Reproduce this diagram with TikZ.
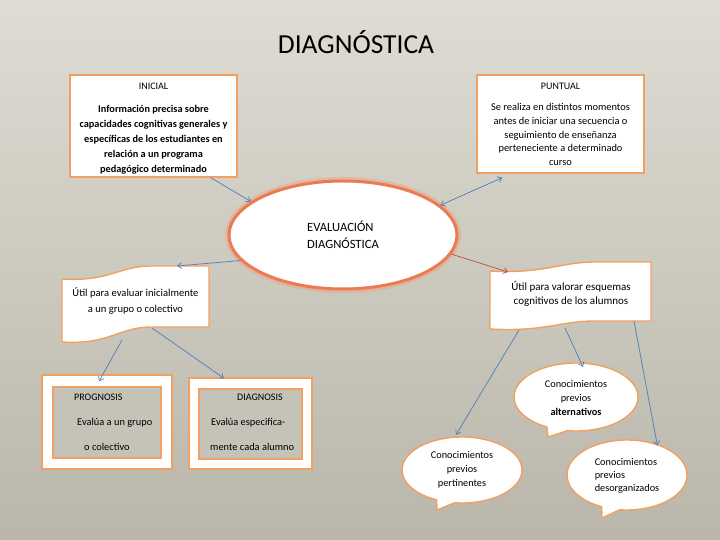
\documentclass[tikz,border=0pt]{standalone}
\usepackage{fontspec}
\setmainfont{Carlito}
\usetikzlibrary{arrows.meta,shapes.geometric}
\definecolor{bgtop}{RGB}{222,220,211}
\definecolor{bgbot}{RGB}{186,182,170}
\definecolor{boxor}{RGB}{242,160,98}
\definecolor{glow}{RGB}{236,122,82}
\definecolor{glowsoft}{RGB}{240,160,120}
\definecolor{arrb}{RGB}{79,125,185}
\definecolor{arrr}{RGB}{190,75,72}
\definecolor{innerg}{RGB}{197,194,184}
\begin{document}
\begin{tikzpicture}[x=1pt,y=1pt,
  box/.style={rectangle, draw=boxor, line width=1.4pt, fill=white, inner sep=0pt},
  innerbox/.style={rectangle, draw=boxor, line width=1.8pt, fill=innerg, inner sep=0pt},
  txt/.style={font=\fontsize{10.4}{15}\selectfont, align=center, inner sep=0pt, text=black},
  small/.style={font=\fontsize{10}{12}\selectfont, inner sep=0pt, text=black},
  arr/.style={draw=arrb, line width=0.7pt, -{Straight Barb[length=4pt,width=6pt]}},
  arrtwo/.style={draw=arrb, line width=0.7pt, {Straight Barb[length=4pt,width=6pt]}-{Straight Barb[length=4pt,width=6pt]}},
  arrred/.style={draw=arrr, line width=0.7pt, -{Straight Barb[length=4pt,width=6pt]}},
  wavebox/.style={draw=boxor, line width=1.4pt, fill=white, line join=round},
  bubble/.style={draw=boxor, line width=1.4pt, fill=white, line join=round},
  bubtxt/.style={ellipse, inner sep=0pt, font=\fontsize{10.3}{14}\selectfont, text=black},
  evell/.style={ellipse, fill=white, draw=glow, line width=3pt, minimum width=228pt, minimum height=108pt, inner sep=0pt,
     preaction={draw=glowsoft, line width=8pt, draw opacity=0.45},
     font=\fontsize{12.6}{17}\selectfont, align=left, text=black}
]
\useasboundingbox (0,0) rectangle (720,540);
\shade[top color=bgtop, bottom color=bgbot] (0,0) rectangle (720,540);

% title
\node[font=\fontsize{27.5}{30}\selectfont, text=black] (title) at (356,498) {DIAGNÓSTICA};

% INICIAL
\node[box, minimum width=167pt, minimum height=102pt] (ini) at (153.5,414) {};
\node[small] (initl) at (153.5,454) {INICIAL};
\node[txt, font=\bfseries\fontsize{10.3}{15}\selectfont] (initx) at (153.5,400) {Información precisa sobre\\capacidades  cognitivas generales y\\específicas  de los estudiantes en\\relación  a un programa\\pedagógico determinado};

% PUNTUAL
\node[box, minimum width=167pt, minimum height=98pt] (punt) at (560.5,416) {};
\node[small] (punttl) at (560.5,454) {PUNTUAL};
\node[txt, font=\fontsize{10.4}{13.8}\selectfont] (punttx) at (560.5,405.5) {Se realiza en distintos momentos\\antes de iniciar una secuencia o\\seguimiento de enseñanza\\perteneciente a determinado\\curso};

% central ellipse
\node[evell] (ell) at (343,305) {EVALUACIÓN\\DIAGNÓSTICA};

% left wave
\draw[wavebox] (62,261) .. controls (110,258) and (118,274) .. (152,274) -- (209,274)
  -- (209,213) -- (152,213) .. controls (118,213) and (110,195) .. (62,198) -- cycle;
\node[txt, font=\fontsize{10.6}{16}\selectfont] (lw) at (135.5,239) {Útil  para evaluar inicialmente\\a un grupo o colectivo};
\coordinate (lwT) at (177,274);
\coordinate (lwA) at (122,200);
\coordinate (lwB) at (152,212);

% right wave
\draw[wavebox] (490,269) .. controls (545,266) and (560,278) .. (595,278) -- (651,278)
  -- (651,219) -- (595,219) .. controls (560,219) and (545,208) .. (490,211) -- cycle;
\node[txt, font=\fontsize{11}{14}\selectfont] (rw) at (571,246) {Útil para valorar esquemas\\cognitivos de los alumnos};
\coordinate (rwT) at (508,268);
\coordinate (rwA) at (519,210);
\coordinate (rwB) at (565,212);
\coordinate (rwC) at (634,219);

% PROGNOSIS
\node[box, minimum width=130pt, minimum height=94pt] (pro) at (107,118) {};
\node[innerbox, minimum width=108pt, minimum height=71pt] (proin) at (107,117.5) {};
\node[small, anchor=west] (protl) at (74,143) {PROGNOSIS};
\node[txt, anchor=west] (pro1) at (77,117) {Evalúa a un grupo};
\node[txt, anchor=west] (pro2) at (84,93) {o colectivo};

% DIAGNOSIS
\node[box, minimum width=123pt, minimum height=91pt] (dia) at (250.5,116.5) {};
\node[innerbox, minimum width=103pt, minimum height=70pt] (diain) at (250.5,116) {};
\node[small, anchor=west] (diatl) at (237,143) {DIAGNOSIS};
\node[txt, anchor=west] (dia1) at (211,117) {Evalúa especifica-};
\node[txt, anchor=west] (dia2) at (210,93) {mente cada alumno};

% bubbles
\draw[bubble] (576,143) ++(262:62 and 34) arc[start angle=262, end angle=602, x radius=62, y radius=34] -- (548,103) -- cycle;
\node[bubtxt, minimum width=124pt, minimum height=68pt, align=center] (alt) at (576,142) {Conocimientos\\previos\\\textbf{alternativos}};

\draw[bubble] (462,70) ++(263:60 and 33) arc[start angle=263, end angle=605, x radius=60, y radius=33] -- (437,30) -- cycle;
\node[bubtxt, minimum width=120pt, minimum height=66pt, align=center] (pert) at (462,70) {Conocimientos\\previos\\pertinentes};

\draw[bubble] (627,65) ++(263:60 and 35) arc[start angle=263, end angle=605, x radius=60, y radius=35] -- (602,22) -- cycle;
\node[bubtxt, minimum width=120pt, minimum height=70pt, align=left, font=\fontsize{10.3}{13}\selectfont] (des) at (627,64) {Conocimientos\\previos\\desorganizados};

% connectors
\draw[arr] ([xshift=-27pt]ini.south east) -- (ell.160);
\draw[arrtwo] (ell.17) -- ([xshift=26pt,yshift=-4pt]punt.south west);
\draw[arr] (ell.194) -- (lwT);
\draw[arrred] (ell.350) -- (rwT);
\draw[arr] (lwA) -- ([xshift=-8pt,yshift=-7pt]pro.north);
\draw[arr] (lwB) -- ([xshift=-26.5pt,yshift=-1pt]dia.north);
\draw[arr] (rwA) -- ([xshift=-6pt,yshift=2pt]pert.north);
\draw[arr] (rwB) -- ([xshift=7pt,yshift=-3pt]alt.north);
\draw[arr] (rwC) -- (des.45);
\end{tikzpicture}
\end{document}
